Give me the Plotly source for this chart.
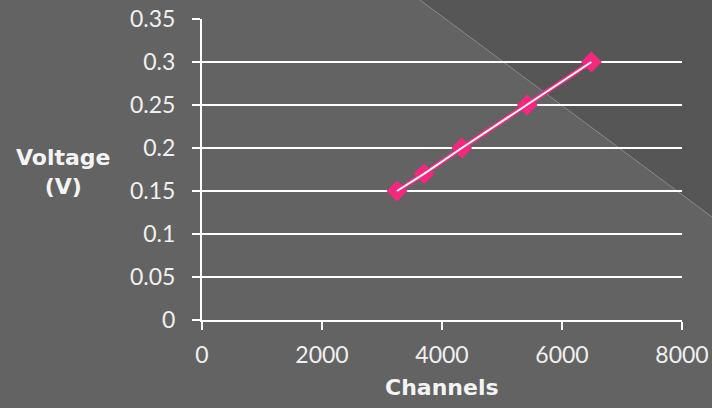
import plotly.graph_objects as go

channels = [3250, 3700, 4330, 5420, 6490]
voltage = [0.15, 0.17, 0.20, 0.25, 0.30]
x_ticks = [0, 2000, 4000, 6000, 8000]
y_ticks = [0, 0.05, 0.1, 0.15, 0.2, 0.25, 0.3, 0.35]
y_tick_labels = ["0", "0.05", "0.1", "0.15", "0.2", "0.25", "0.3", "0.35"]

PINK = "#F5287F"
FONT = "Lato"
TFONT = "DejaVu Sans"

fig = go.Figure()
fig.add_trace(go.Scatter(
    x=channels, y=voltage, mode="lines+markers",
    line=dict(color=PINK, width=5),
    marker=dict(symbol="diamond", size=16, color=PINK),
    showlegend=False, hoverinfo="skip",
))
fig.add_trace(go.Scatter(
    x=channels, y=voltage, mode="lines",
    line=dict(color="white", width=2),
    showlegend=False, hoverinfo="skip",
))

# background: darker triangle in the upper right and thin light diagonal
def px(xp, yp):
    return (xp - 202) / 480, (320 - yp) / 301

tl = px(420, 0); tr = px(712, 0); br = px(712, 217)
fig.add_shape(type="path", xref="paper", yref="paper", layer="below",
              path=f"M {tl[0]},{tl[1]} L {tr[0]},{tr[1]} L {br[0]},{br[1]} Z",
              fillcolor="#565656", line=dict(width=0))
fig.add_shape(type="line", xref="paper", yref="paper", layer="below",
              x0=tl[0], y0=tl[1], x1=br[0], y1=br[1],
              line=dict(color="#8a8a8a", width=1))

fig.add_annotation(text="<b>Voltage<br>(V)</b>", xref="paper", yref="paper",
                   x=px(63, 0)[0], y=px(0, 172)[1], showarrow=False,
                   xanchor="center", yanchor="middle",
                   font=dict(family=TFONT, size=22, color="#f4f4f4"), align="center")
fig.add_annotation(text="<b>Channels</b>", xref="paper", yref="paper",
                   x=px(442, 0)[0], y=px(0, 387)[1], showarrow=False,
                   xanchor="center", yanchor="middle",
                   font=dict(family=TFONT, size=22, color="#f4f4f4"))

fig.update_layout(
    width=712, height=408,
    margin=dict(l=202, r=30, t=19, b=88),
    paper_bgcolor="#636363", plot_bgcolor="rgba(0,0,0,0)",
    font=dict(family=FONT, size=23, color="#f0f0f0"),
    xaxis=dict(range=[0, 8000], tickvals=x_ticks, ticktext=[str(v) for v in x_ticks],
               showgrid=False, zeroline=False, showline=True, linecolor="white", linewidth=2,
               ticks="outside", ticklen=8, tickcolor="white", tickwidth=2,
               ticklabelstandoff=5, automargin=False,
               tickfont=dict(family=FONT, size=23, color="#f0f0f0")),
    yaxis=dict(range=[0, 0.35], tickvals=y_ticks, ticktext=y_tick_labels,
               showgrid=True, gridcolor="white", gridwidth=2, zeroline=False,
               showline=True, linecolor="white", linewidth=2,
               ticks="outside", ticklen=8, tickcolor="white", tickwidth=2,
               ticklabelstandoff=12, automargin=False,
               tickfont=dict(family=FONT, size=23, color="#f0f0f0")),
)

fig.write_html("out.html")
